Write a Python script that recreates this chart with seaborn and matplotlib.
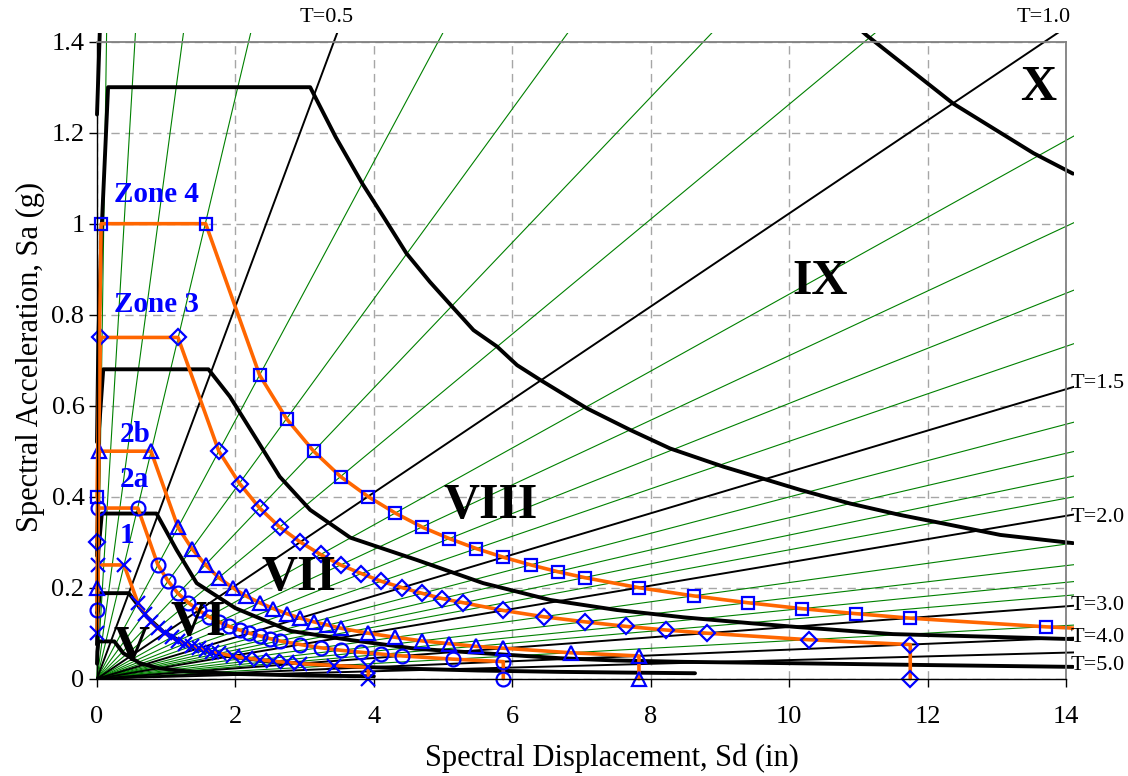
import numpy as np
import matplotlib
matplotlib.use("Agg")
import matplotlib.pyplot as plt
import seaborn as sns
from matplotlib.patches import Rectangle

# ---------------- data ----------------
# Constant-period radial lines (seconds)
GREEN_T = [0.1, 0.2, 0.3, 0.4, 0.6, 0.7, 0.8, 0.9, 1.1, 1.2, 1.3, 1.4,
           1.6, 1.7, 1.8, 1.9, 2.2, 2.4, 2.6, 2.8, 3.5]
BLACK_T = [0.5, 1.0, 1.5, 2.0, 3.0, 4.0, 5.0]
G_INCH = 386.09  # gravity, in/s^2

# Intensity boundary spectra (Sd in, Sa g)
A_SD = [0.0, 0.04, 0.12, 5.0, 9.0, 10.0, 11.12, 12.37, 13.53, 14.10]
A_SA = [1.24, 1.42, 3.10, 3.10, 1.74, 1.565, 1.414, 1.264, 1.155, 1.11]
B_SD = [0.0, 0.02, 0.068, 0.16, 3.08, 3.45, 3.83, 4.14, 4.47, 4.81, 5.13,
        5.44, 5.78, 6.07, 6.40, 7.08, 7.70, 8.28, 9.05, 10.16, 10.88, 11.60,
        12.33, 13.05, 14.10]
B_SA = [0.52, 0.75, 0.99, 1.30, 1.30, 1.19, 1.089, 1.015, 0.935, 0.872,
        0.818, 0.766, 0.730, 0.689, 0.657, 0.594, 0.547, 0.506, 0.466,
        0.415, 0.385, 0.360, 0.338, 0.316, 0.298]
C_SD = [0.0, 0.03, 0.09, 1.61, 1.92, 2.31, 2.64, 3.08, 3.66, 4.62, 5.58,
        6.55, 7.51, 8.47, 9.44, 10.16, 11.50, 12.95, 14.10]
C_SA = [0.27, 0.55, 0.68, 0.68, 0.62, 0.525, 0.444, 0.371, 0.31, 0.261,
        0.21, 0.173, 0.151, 0.135, 0.122, 0.113, 0.098, 0.092, 0.087]
D_SD = [0.0, 0.02, 0.07, 0.86, 1.15, 1.44, 2.0, 2.79, 3.66, 4.6, 5.58,
        6.69, 7.51, 8.5, 10.06, 12.0, 14.1]
D_SA = [0.144, 0.28, 0.363, 0.363, 0.283, 0.21, 0.155, 0.105, 0.085,
        0.066, 0.056, 0.045, 0.040, 0.037, 0.034, 0.030, 0.026]
E_SD = [0.0, 0.01, 0.04, 0.46, 0.72, 0.96, 1.34, 1.83, 2.5, 3.5, 4.5,
        5.5, 6.69, 7.6, 8.64]
E_SA = [0.075, 0.14, 0.188, 0.188, 0.136, 0.103, 0.071, 0.051, 0.038,
        0.028, 0.022, 0.018, 0.015, 0.0135, 0.012]
F_SD = [0.0, 0.005, 0.02, 0.25, 0.38, 0.62, 0.9, 1.3, 2.0, 3.0, 4.0]
F_SA = [0.033, 0.06, 0.082, 0.082, 0.056, 0.034, 0.023, 0.016, 0.0105,
        0.007, 0.0052]

# Seismic zone design spectra
ZONE4_SD = [0.0, 0.06, 1.57, 2.35, 2.74, 3.13, 3.52, 3.92, 4.31, 4.70, 5.09,
            5.48, 5.87, 6.27, 6.66, 7.05, 7.83, 8.62, 9.40, 10.18, 10.96,
            11.75, 13.71, 15.66, 15.66]
ZONE4_SA = [0.40, 1.00, 1.00, 0.667, 0.571, 0.50, 0.444, 0.40, 0.364, 0.333,
            0.308, 0.286, 0.267, 0.25, 0.235, 0.222, 0.20, 0.182, 0.167,
            0.154, 0.143, 0.133, 0.114, 0.10, 0.0]
ZONE3_SD = [0.0, 0.05, 1.17, 1.76, 2.06, 2.35, 2.64, 2.94, 3.23, 3.52, 3.82,
            4.11, 4.41, 4.70, 4.99, 5.29, 5.87, 6.46, 7.05, 7.64, 8.22, 8.81,
            10.28, 11.75, 11.75]
ZONE3_SA = [0.30, 0.75, 0.75, 0.50, 0.429, 0.375, 0.333, 0.30, 0.273, 0.25,
            0.231, 0.214, 0.20, 0.1875, 0.176, 0.167, 0.15, 0.136, 0.125,
            0.115, 0.107, 0.10, 0.0857, 0.075, 0.0]
ZONE2B_SD = [0.0, 0.03, 0.78, 1.17, 1.37, 1.57, 1.76, 1.96, 2.15, 2.35, 2.55,
             2.74, 2.94, 3.13, 3.33, 3.52, 3.92, 4.31, 4.70, 5.09, 5.48,
             5.87, 6.85, 7.83, 7.83]
ZONE2B_SA = [0.20, 0.50, 0.50, 0.333, 0.286, 0.25, 0.222, 0.20, 0.182, 0.167,
             0.154, 0.143, 0.133, 0.125, 0.118, 0.111, 0.10, 0.091, 0.083,
             0.077, 0.071, 0.067, 0.057, 0.05, 0.0]
ZONE2A_SD = [0.0, 0.02, 0.59, 0.88, 1.03, 1.17, 1.32, 1.47, 1.62, 1.76, 1.91,
             2.06, 2.20, 2.35, 2.50, 2.64, 2.94, 3.23, 3.52, 3.82, 4.11,
             4.41, 5.14, 5.87, 5.87]
ZONE2A_SA = [0.15, 0.375, 0.375, 0.25, 0.214, 0.1875, 0.167, 0.15, 0.136,
             0.125, 0.115, 0.107, 0.10, 0.094, 0.088, 0.083, 0.075, 0.068,
             0.0625, 0.058, 0.054, 0.05, 0.043, 0.0375, 0.0]
ZONE1_SD = [0.0, 0.02, 0.39, 0.59, 0.69, 0.78, 0.88, 0.98, 1.08, 1.17, 1.27,
            1.37, 1.47, 1.57, 1.66, 1.76, 1.96, 2.15, 2.35, 2.55, 2.74, 2.94,
            3.43, 3.92, 3.92]
ZONE1_SA = [0.10, 0.25, 0.25, 0.167, 0.143, 0.125, 0.111, 0.10, 0.091, 0.083,
            0.077, 0.071, 0.067, 0.0625, 0.059, 0.056, 0.05, 0.045, 0.042,
            0.038, 0.036, 0.033, 0.029, 0.025, 0.0]

X_TICKS = [0, 2, 4, 6, 8, 10, 12, 14]
Y_TICKS = [0, 0.2, 0.4, 0.6, 0.8, 1.0, 1.2, 1.4]
Y_TICK_LABELS = ["0", "0.2", "0.4", "0.6", "0.8", "1", "1.2", "1.4"]

# ---------------- figure ----------------
sns.set_theme(style="white")
plt.rcParams["font.family"] = ["Liberation Serif", "DejaVu Serif"]
plt.rcParams["text.color"] = "black"
plt.rcParams["axes.labelcolor"] = "black"

W, H = 1128, 776
fig = plt.figure(figsize=(W / 100, H / 100), dpi=100)
x0, x1, y0, y1 = 97, 1066, 41.7, 678.7
ax = fig.add_axes([x0 / W, 1 - y1 / H, (x1 - x0) / W, (y1 - y0) / H])
ax.set_xlim(0, 14)
ax.set_ylim(0, 1.4)

ax.set_xticks(X_TICKS)
ax.set_xticklabels([str(v) for v in X_TICKS])
ax.set_yticks(Y_TICKS)
ax.set_yticklabels(Y_TICK_LABELS)
ax.grid(True, color="#a6a6a6", linestyle=(0, (6, 4)), linewidth=1.0)
ax.set_axisbelow(True)
ax.tick_params(bottom=True, left=True, direction="out", length=6, width=1,
               colors="black", labelsize=19)
ax.tick_params(axis="x", pad=14)
ax.tick_params(axis="y", pad=3)
for side in ("top", "right"):
    ax.spines[side].set_color("#808080")
    ax.spines[side].set_linewidth(1.3)
for side in ("left", "bottom"):
    ax.spines[side].set_color("black")
    ax.spines[side].set_linewidth(1.0)

# constant-period lines through the origin
def period_line(T, color, lw):
    k = 4 * np.pi ** 2 / (G_INCH * T ** 2)
    sns.lineplot(x=[0.0, 30.0], y=[0.0, 30.0 * k], sort=False, estimator=None,
                 color=color, lw=lw, ax=ax)

for T in GREEN_T:
    period_line(T, "#008000", 0.8)
for T in BLACK_T:
    period_line(T, "black", 1.4)

# intensity boundaries
for sd, sa in [(A_SD, A_SA), (B_SD, B_SA), (C_SD, C_SA), (D_SD, D_SA),
               (E_SD, E_SA), (F_SD, F_SA)]:
    sns.lineplot(x=sd, y=sa, sort=False, estimator=None, color="black",
                 lw=2.8, ax=ax)

# zone spectra
zones = [(ZONE1_SD, ZONE1_SA, "x", 10), (ZONE2A_SD, ZONE2A_SA, "o", 10),
         (ZONE2B_SD, ZONE2B_SA, "^", 10), (ZONE3_SD, ZONE3_SA, "D", 8.5),
         (ZONE4_SD, ZONE4_SA, "s", 8.5)]
for sd, sa, mk, ms in zones:
    sns.lineplot(x=sd, y=sa, sort=False, estimator=None, color="#ff6600",
                 lw=2.6, marker=mk, markersize=ms, markerfacecolor="none",
                 markeredgecolor="#0000ff", markeredgewidth=1.6, ax=ax)

clip = Rectangle((-1, -1), 15.12, 2.42, transform=ax.transData,
                 fill=False, visible=False)
for ln in ax.lines:
    ln.set_clip_path(clip)

# region labels
roman = [("X", 13.6, 1.271), ("IX", 10.45, 0.846), ("VIII", 5.68, 0.353),
         ("VII", 2.92, 0.194), ("VI", 1.46, 0.096), ("V", 0.505, 0.041)]
for s, xx, yy in roman:
    ax.text(xx, yy, s, fontsize=36, fontweight="bold", color="black",
            ha="center", va="baseline", zorder=10)

zone_lbl = [("Zone 4", 0.853, 1.047), ("Zone 3", 0.853, 0.807),
            ("2b", 0.55, 0.52), ("2a", 0.535, 0.421), ("1", 0.434, 0.298)]
for s, xx, yy in zone_lbl:
    ax.text(xx, yy, s, fontsize=21, fontweight="bold", color="#0000ff",
            ha="center", va="baseline", zorder=10)

# period labels
def ftext(px, py, s, **kw):
    fig.text(px / W, 1 - py / H, s, fontsize=16, color="black", **kw)

ftext(327, 17.5, "T=0.5", ha="center", va="center")
ftext(1044, 17.5, "T=1.0", ha="center", va="center")
for s, py in [("T=1.5", 383), ("T=2.0", 517), ("T=3.0", 605),
              ("T=4.0", 637), ("T=5.0", 665)]:
    ftext(1071, py, s, ha="left", va="center")

fig.text(612 / W, 1 - 758 / H, "Spectral Displacement, Sd (in)",
         fontsize=22, color="black", ha="center", va="center")
fig.text(30 / W, 1 - 357 / H, "Spectral Acceleration, Sa (g)",
         fontsize=22, color="black", ha="center", va="center", rotation=90)

fig.savefig("out.png", dpi=100, facecolor="white")
